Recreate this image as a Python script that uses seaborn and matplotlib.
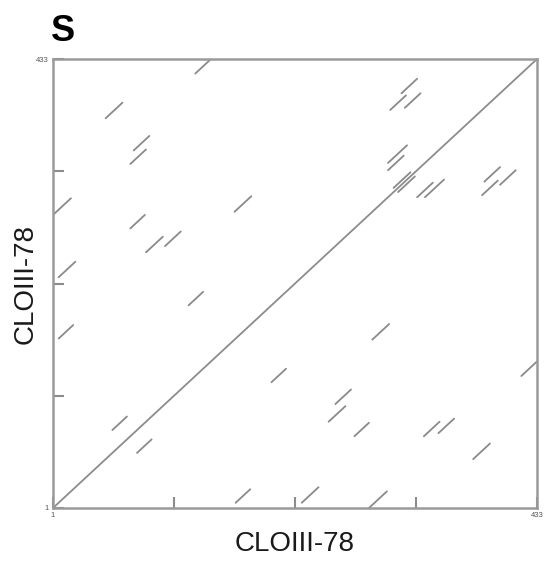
import numpy as np
import pandas as pd
import matplotlib
matplotlib.use("Agg")
import matplotlib.pyplot as plt
import seaborn as sns

# Self dot plot of CLOIII-78 (sequence length 433)
seq_len = 433
seq_name = "CLOIII-78"
panel_label = "S"

# Repeat hits above the main diagonal: start position on x, start on y, hit length
hit_x = [128, 48, 73, 70, 1, 163, 70, 84, 101, 6, 6, 54, 122, 312, 302, 315, 300, 300, 305]
hit_y = [419, 376, 345, 332, 283, 286, 270, 247, 253, 223, 164, 76, 196, 400, 384, 386, 333, 326, 309]
hit_len = [14, 15, 14, 14, 16, 15, 13, 15, 14, 15, 13, 13, 13, 14, 14, 14, 17, 14, 15]

rows = []
seg = 0
# main identity diagonal
rows += [(seg, 1, 1), (seg, seq_len, seq_len)]
for x0, y0, n in zip(hit_x, hit_y, hit_len):
    # the self comparison is symmetric, so each hit appears on both sides
    for a, b in ((x0, y0), (y0, x0)):
        seg += 1
        rows += [(seg, a, b), (seg, min(a + n, seq_len), min(b + n, seq_len))]
df = pd.DataFrame(rows, columns=["seg", "x", "y"])

sns.set_theme(style="white")
plt.rcParams["font.family"] = ["Liberation Sans", "DejaVu Sans"]

fig = plt.figure(figsize=(5.55, 5.61), dpi=100)
ax = fig.add_axes([0.0955, 0.0945, 0.8721, 0.8003])

diag = df[df.seg == 0]
hits = df[df.seg > 0]
sns.lineplot(data=diag, x="x", y="y", units="seg", estimator=None,
             color="#8c8c8c", linewidth=1.3, ax=ax, legend=False)
sns.lineplot(data=hits, x="x", y="y", units="seg", estimator=None,
             color="#8a8a8a", linewidth=1.3, ax=ax, legend=False)

ax.set_xlim(1, seq_len)
ax.set_ylim(1, seq_len)
quarters = [1 + (seq_len - 1) * q for q in (0.25, 0.5, 0.75)]
ax.set_xticks([1] + quarters + [seq_len])
ax.set_yticks([1] + quarters + [seq_len])
ax.set_xticklabels(["1", "", "", "", str(seq_len)])
ax.set_yticklabels(["1", "", "", "", str(seq_len)])
ax.tick_params(axis="both", direction="in", length=8, width=1.5, color="#8c8c8c",
               labelsize=5.5, labelcolor="#555555", pad=3, bottom=True, left=True)
for s in ax.spines.values():
    s.set_color("#9a9a9a")
    s.set_linewidth(1.8)

ax.set_xlabel(seq_name, fontsize=20, color="#1a1a1a")
ax.set_ylabel(seq_name, fontsize=20, color="#1a1a1a")
ax.xaxis.set_label_coords(0.5, -0.052)
ax.yaxis.set_label_coords(-0.03, 0.5)

fig.text(0.092, 0.927, panel_label, fontsize=26, fontweight="bold", color="black",
         ha="left", va="baseline")

fig.savefig("out.png", dpi=100)
